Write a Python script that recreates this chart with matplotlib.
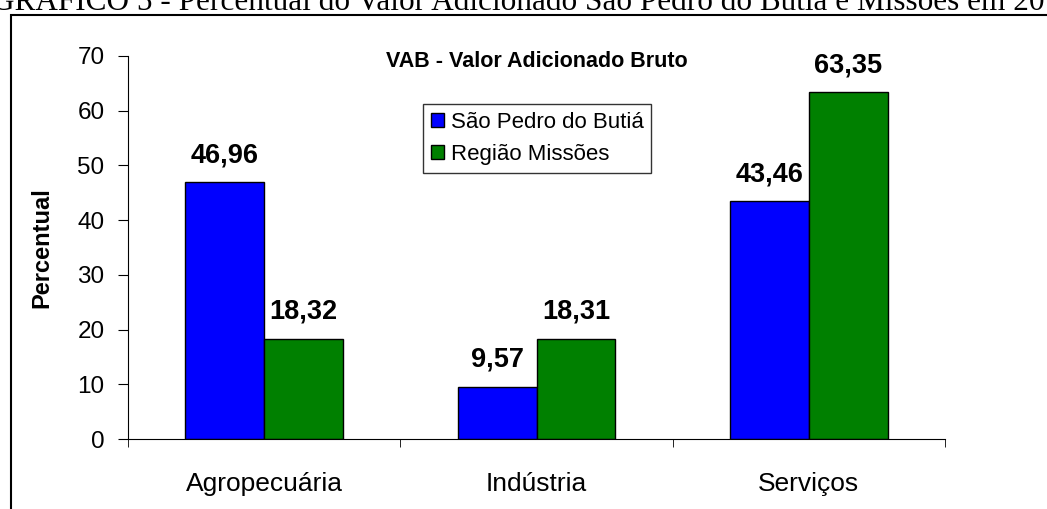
import matplotlib.pyplot as plt
import numpy as np
from matplotlib.patches import Rectangle

categories = ['Agropecuária', 'Indústria', 'Serviços']
sao_pedro = [46.96, 9.57, 43.46]
missoes = [18.32, 18.31, 63.35]
series_names = ['São Pedro do Butiá', 'Região Missões']
colors = ['#0000ff', '#008000']

plt.rcParams['font.family'] = ['Liberation Sans', 'DejaVu Sans']

fig = plt.figure(figsize=(10.47, 5.09), dpi=100)
ax = fig.add_axes([128 / 1047, 1 - 439 / 509, (945 - 128) / 1047, (439 - 56) / 509])

x = np.arange(len(categories))
w = 0.29
for vals, off, col, name in [(sao_pedro, -w / 2, colors[0], series_names[0]),
                             (missoes, w / 2, colors[1], series_names[1])]:
    bars = ax.bar(x + off, vals, w, color=col, edgecolor='black', linewidth=1, label=name)
    for b, v in zip(bars, vals):
        ax.annotate(f'{v:.2f}'.replace('.', ','), (b.get_x() + b.get_width() / 2, v),
                    xytext=(0, 10), textcoords='offset points', ha='center', va='bottom',
                    fontsize=19.5, fontweight='bold')

ax.set_xlim(-0.5, 2.5)
ax.set_ylim(0, 70)
ax.set_yticks(range(0, 71, 10))
ax.set_xticks(x)
ax.set_xticklabels(categories)
ax.set_xticks([-0.5, 0.5, 1.5, 2.5], minor=True)
ax.tick_params(axis='x', which='major', length=0, pad=24, labelsize=19)
ax.tick_params(axis='x', which='minor', length=6, direction='out')
ax.tick_params(axis='y', direction='out', length=7, labelsize=17.5, pad=10)
for s in ['top', 'right']:
    ax.spines[s].set_visible(False)
ax.set_ylabel('Percentual', fontsize=17, fontweight='bold', labelpad=17)

ax.text(0.5, 0.985, 'VAB - Valor Adicionado Bruto', transform=ax.transAxes,
        ha='center', va='center', fontsize=15.5, fontweight='bold')

leg = ax.legend(loc='upper left', bbox_to_anchor=((423 - 128) / 817, (439 - 104) / 383),
                fontsize=16, frameon=True, fancybox=False, edgecolor='black',
                handlelength=0.6, handleheight=0.6, handletextpad=0.3, borderpad=0.35,
                labelspacing=0.5, borderaxespad=0)
leg.get_frame().set_linewidth(1)

fig.patches.append(Rectangle((11 / 1047, -0.1), 1.2, 1 - 15 / 509 + 0.1,
                             transform=fig.transFigure, fill=False,
                             edgecolor='black', linewidth=1.5))
fig.text(0.51, 1 - 10 / 509, 'GRÁFICO 5 - Percentual do Valor Adicionado São Pedro do Butiá e Missões em 2010',
         ha='center', va='baseline', fontsize=22.5, family='Liberation Serif')

fig.savefig('out.png', dpi=100)
